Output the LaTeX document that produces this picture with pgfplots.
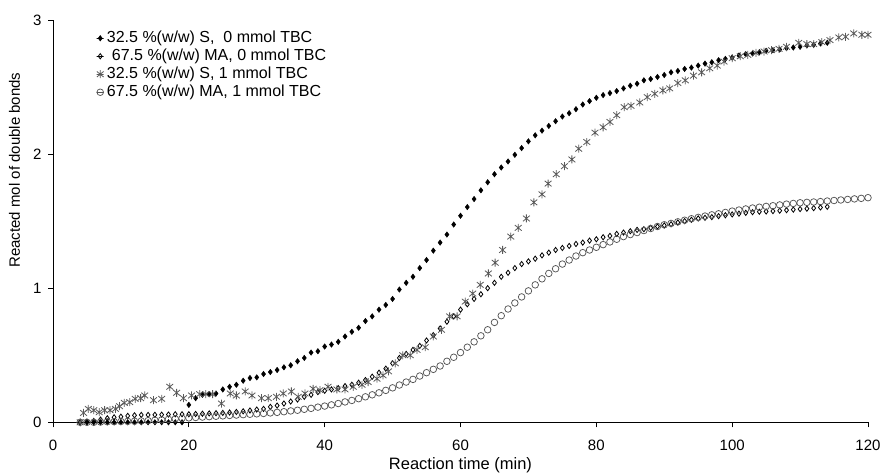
\documentclass[border=0pt]{standalone}
\usepackage{fontspec}
\setmainfont{Liberation Sans}
\usepackage{pgfplots}
\usepackage{pgfplotstable}
\pgfplotsset{compat=1.18}
\definecolor{stargray}{HTML}{5A5A5A}
\definecolor{circgray}{HTML}{555555}
\pgfdeclareplotmark{xstar}{%
 \pgfpathmoveto{\pgfqpoint{0pt}{\pgfplotmarksize}}\pgfpathlineto{\pgfqpoint{0pt}{-\pgfplotmarksize}}%
 \pgfpathmoveto{\pgfqpoint{-0.85\pgfplotmarksize}{0.7\pgfplotmarksize}}\pgfpathlineto{\pgfqpoint{0.85\pgfplotmarksize}{-0.7\pgfplotmarksize}}%
 \pgfpathmoveto{\pgfqpoint{-0.85\pgfplotmarksize}{-0.7\pgfplotmarksize}}\pgfpathlineto{\pgfqpoint{0.85\pgfplotmarksize}{0.7\pgfplotmarksize}}%
 \pgfusepathqstroke}

\pgfplotstableread{
t y
4 0
5 0
6 0
7 0
8 0
9 0
10 0
11 0
12 0
13 0
14 0
15 0
16 0
17 0
18 0
19 0
20 0.13
21 0.18
22 0.205
23 0.21
24 0.215
25 0.245
26 0.265
27 0.28
28 0.31
29 0.33
30 0.335
31 0.36
32 0.375
33 0.39
34 0.41
35 0.425
36 0.455
37 0.48
38 0.52
39 0.53
40 0.565
41 0.58
42 0.60
43 0.64
44 0.675
45 0.705
46 0.755
47 0.79
48 0.84
49 0.875
50 0.92
51 0.99
52 1.04
53 1.085
54 1.15
55 1.21
56 1.28
57 1.34
58 1.40
59 1.475
60 1.54
61 1.605
62 1.665
63 1.73
64 1.79
65 1.85
66 1.90
67 1.945
68 1.995
69 2.045
70 2.095
71 2.14
72 2.175
73 2.21
74 2.245
75 2.28
76 2.305
77 2.335
78 2.37
79 2.395
80 2.42
81 2.44
82 2.455
83 2.47
84 2.49
85 2.51
86 2.525
87 2.55
88 2.56
89 2.575
90 2.59
91 2.61
92 2.62
93 2.635
94 2.645
95 2.66
96 2.675
97 2.685
98 2.70
99 2.71
100 2.72
101 2.735
102 2.745
103 2.75
104 2.76
105 2.77
106 2.775
107 2.78
108 2.79
109 2.795
110 2.80
111 2.81
112 2.815
113 2.825
114 2.83
}\seriesA

\pgfplotstableread{
t y
4 0
5 0.005
6 0.01
7 0.02
8 0.03
9 0.037
10 0.042
11 0.048
12 0.052
13 0.055
14 0.055
15 0.056
16 0.057
17 0.058
18 0.06
19 0.06
20 0.06
21 0.062
22 0.064
23 0.066
24 0.068
25 0.07
26 0.073
27 0.077
28 0.082
29 0.088
30 0.095
31 0.10
32 0.115
33 0.125
34 0.14
35 0.155
36 0.17
37 0.19
38 0.205
39 0.225
40 0.235
41 0.245
42 0.255
43 0.27
44 0.28
45 0.295
46 0.315
47 0.34
48 0.37
49 0.40
50 0.44
51 0.48
52 0.51
53 0.54
54 0.57
55 0.61
56 0.65
57 0.70
58 0.75
59 0.79
60 0.84
61 0.88
62 0.92
63 0.955
64 1.00
65 1.04
66 1.085
67 1.115
68 1.15
69 1.18
70 1.20
71 1.22
72 1.245
73 1.265
74 1.285
75 1.30
76 1.315
77 1.33
78 1.34
79 1.355
80 1.365
81 1.38
82 1.39
83 1.405
84 1.415
85 1.425
86 1.435
87 1.44
88 1.45
89 1.46
90 1.468
91 1.477
92 1.49
93 1.50
94 1.51
95 1.52
96 1.525
97 1.53
98 1.537
99 1.544
100 1.55
101 1.556
102 1.562
103 1.567
104 1.57
105 1.572
106 1.575
107 1.578
108 1.582
109 1.586
110 1.59
111 1.593
112 1.597
113 1.602
114 1.607
}\seriesB

\pgfplotstableread{
t y
4 0.0
4.5 0.07
5.2 0.10
6 0.09
6.8 0.075
7.6 0.09
8.4 0.09
9.2 0.10
9.8 0.12
10.5 0.145
11.3 0.15
12.1 0.175
12.9 0.18
13.5 0.20
14.8 0.165
16 0.175
17.2 0.265
18.2 0.22
19.2 0.18
20.4 0.20
21.6 0.21
22.5 0.21
23.5 0.21
24.8 0.14
26.1 0.215
27 0.20
28.3 0.23
29.3 0.20
30.7 0.18
31.7 0.18
32.9 0.19
33.9 0.215
35.1 0.23
36.1 0.19
37.1 0.215
38.3 0.25
39.3 0.24
40.5 0.265
41.8 0.245
43 0.245
44.2 0.265
45.5 0.28
46.4 0.30
47.7 0.325
48.6 0.35
49.4 0.38
50.4 0.44
51.5 0.50
52.6 0.50
53.6 0.54
54.8 0.56
56 0.64
57.2 0.69
58.4 0.79
59.5 0.79
60.7 0.90
61.8 0.96
62.9 1.025
64.1 1.11
65.1 1.19
66.2 1.285
67.4 1.385
68.5 1.45
69.7 1.52
70.8 1.64
72 1.70
72.9 1.78
74.1 1.85
75.3 1.91
76.4 1.96
77.4 2.04
78.6 2.09
79.8 2.16
81 2.20
82 2.24
83 2.29
84.1 2.35
85.1 2.36
86.4 2.385
87.5 2.425
88.6 2.45
89.8 2.475
90.8 2.49
92 2.53
93.1 2.55
94.3 2.585
95.5 2.61
96.7 2.64
97.8 2.66
98.8 2.69
100 2.715
101.2 2.73
102.3 2.74
103.5 2.755
104.7 2.765
105.8 2.775
106.9 2.785
108 2.80
109.8 2.83
111 2.82
112 2.82
113.2 2.835
114.4 2.85
115.7 2.87
116.7 2.875
117.9 2.90
119.1 2.89
120 2.89
}\seriesC

\pgfplotstableread{
t y
4 0
5 0
6 0
7 0.002
8 0.004
9 0.005
10 0.006
11 0.007
12 0.008
13 0.01
14 0.012
15 0.015
16 0.018
17 0.022
18 0.026
19 0.03
20 0.033
21 0.036
22 0.039
23 0.042
24 0.045
25 0.048
26 0.051
27 0.054
28 0.057
29 0.06
30 0.063
31 0.066
32 0.07
33 0.074
34 0.079
35 0.085
36 0.09
37 0.097
38 0.104
39 0.113
40 0.121
41 0.13
42 0.14
43 0.152
44 0.163
45 0.176
46 0.19
47 0.205
48 0.22
49 0.238
50 0.257
51 0.278
52 0.30
53 0.32
54 0.345
55 0.37
56 0.395
57 0.42
58 0.455
59 0.485
60 0.52
61 0.56
62 0.60
63 0.645
64 0.69
65 0.745
66 0.795
67 0.845
68 0.89
69 0.935
70 0.98
71 1.025
72 1.07
73 1.11
74 1.145
75 1.18
76 1.21
77 1.24
78 1.265
79 1.285
80 1.305
81 1.325
82 1.345
83 1.365
84 1.385
85 1.40
86 1.415
87 1.43
88 1.445
89 1.46
90 1.473
91 1.483
92 1.495
93 1.507
94 1.518
95 1.528
96 1.538
97 1.547
98 1.555
99 1.565
100 1.575
101 1.583
102 1.591
103 1.598
104 1.604
105 1.61
106 1.615
107 1.621
108 1.627
109 1.632
110 1.637
111 1.64
112 1.643
113 1.646
114 1.65
115 1.654
116 1.658
117 1.662
118 1.666
119 1.67
120 1.675
}\seriesD

\begin{document}
\begin{tikzpicture}
\path[use as bounding box] (0,0) rectangle (883pt,474pt);
\begin{axis}[
  at={(53pt,51.7pt)}, anchor=south west,
  scale only axis, width=815pt, height=402.3pt,
  xmin=0, xmax=120, ymin=0, ymax=3,
  axis x line=bottom, axis y line=left,
  axis line style={-, black, line width=0.8pt},
  xtick={0,20,40,60,80,100,120}, ytick={0,1,2,3},
  tick align=outside, major tick length=5pt,
  tick style={black, line width=0.8pt},
  /pgf/number format/assume math mode=true,
  ticklabel style={font=\fontsize{15}{18}\selectfont},
  xticklabel style={yshift=-9pt},
  yticklabel style={xshift=-3pt},
  clip=false,
  xlabel={Reaction time (min)},
  ylabel={Reacted mol of double bonds},
  every axis x label/.style={at={([yshift=-47.5pt]axis description cs:0.5,0)}, anchor=base, font=\fontsize{16.5}{20}\selectfont},
  every axis y label/.style={at={([xshift=-33pt]axis description cs:0,0.627)}, rotate=90, anchor=base, font=\fontsize{15}{18}\selectfont},
  legend image code/.code={\path (-3.5pt,0pt) rectangle (3.5pt,0pt); \draw[#1] plot coordinates {(0pt,0pt)};},
  legend cell align=left,
  legend style={draw=none, fill=none, at={(axis description cs:0.0495,0.98)}, anchor=north west,
    font=\fontsize{16}{19}\selectfont, row sep=2pt, column sep=3pt,
    nodes={inner sep=0pt, text height=12pt, text depth=4pt}},
]
\addplot[only marks, mark=diamond*, mark size=2.7pt, black, mark options={solid, fill=black, line width=0.5pt}] table[x=t,y=y] {\seriesA};
\addlegendentry{32.5 \%(w/w) S,\ \ 0 mmol TBC}
\addplot[only marks, mark=diamond, mark size=2.6pt, black, mark options={solid, fill=white, line width=0.8pt}] table[x=t,y=y] {\seriesB};
\addlegendentry{\hspace*{5pt}67.5 \%(w/w) MA, 0 mmol TBC}
\addplot[only marks, mark=xstar, mark size=4pt, stargray, mark options={solid, line width=0.8pt}] table[x=t,y=y] {\seriesC};
\addlegendentry{32.5 \%(w/w) S, 1 mmol TBC}
\addplot[only marks, mark=o, mark size=3.3pt, circgray, mark options={solid, fill=white, line width=0.75pt}] table[x=t,y=y] {\seriesD};
\addlegendentry{67.5 \%(w/w) MA, 1 mmol TBC}
\end{axis}
\end{tikzpicture}
\end{document}
